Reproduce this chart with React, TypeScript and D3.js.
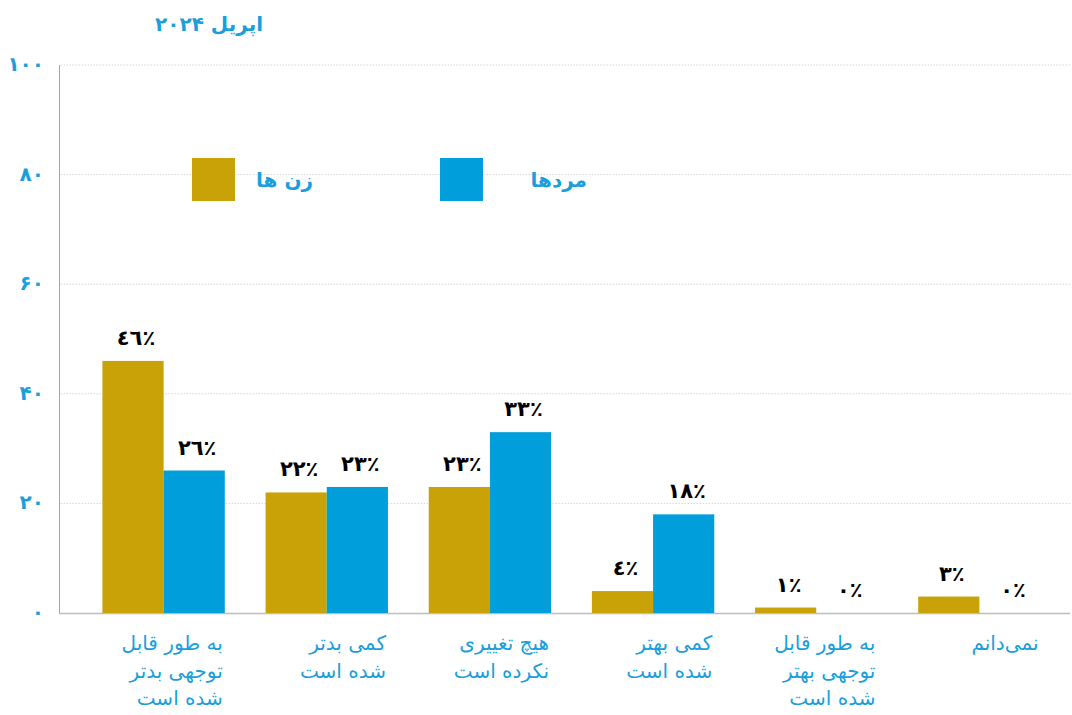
import React from "react";
import * as d3 from "d3";

const categories: string[][] = [
  ["به طور قابل", "توجهی بدتر", "شده است"],
  ["کمی بدتر", "شده است"],
  ["هیچ تغییری", "نکرده است"],
  ["کمی بهتر", "شده است"],
  ["به طور قابل", "توجهی بهتر", "شده است"],
  ["نمی‌دانم"],
];
const women: number[] = [46, 22, 23, 4, 1, 3];
const men: number[] = [26, 23, 33, 18, 0, 0];
const seriesNames: string[] = ["زن ها", "مردها"];
const yTicks: number[] = [0, 20, 40, 60, 80, 100];
const yTickLabels: string[] = ["۰", "۲۰", "۴۰", "۶۰", "۸۰", "۱۰۰"];
const title = "اپریل ۲۰۲۴";

const GOLD = "#C8A206";
const BLUE = "#009EDB";
const TEXT_BLUE = "#1A9FDC";
const FONT = "'DejaVu Sans', sans-serif";

const arabicDigits = (n: number) =>
  String(n).replace(/[0-9]/g, (d) => "٠١٢٣٤٥٦٧٨٩"[+d]) + "٪";

export default function App() {
  React.useEffect(() => {
    document.body.style.margin = "0";
  }, []);

  const W = 1072;
  const H = 715;
  const axisX = 59.5;
  const y = d3.scaleLinear().domain([0, 100]).range([613, 65]);
  const x0 = d3
    .scaleBand<number>()
    .domain(d3.range(categories.length))
    .range([60, 1083])
    .paddingInner(0.25)
    .paddingOuter(0.26);
  const x1 = d3.scaleBand<number>().domain([0, 1]).range([0, x0.bandwidth()]);
  const series = [women, men];
  const colors = [GOLD, BLUE];

  return (
    <svg
      width={W}
      height={H}
      style={{ position: "absolute", left: 0, top: 0, background: "#fff" }}
      fontFamily={FONT}
    >
      {/* gridlines */}
      {yTicks
        .filter((t) => t > 0)
        .map((t) => (
          <line
            key={"g" + t}
            x1={axisX + 1}
            x2={1070}
            y1={y(t)}
            y2={y(t)}
            stroke="#d6d6d6"
            strokeWidth={1}
            strokeDasharray="1.5 1.5"
          />
        ))}
      {/* axes */}
      <line x1={axisX} x2={axisX} y1={y(100)} y2={y(0) + 1} stroke="#a6a6a6" strokeWidth={1} />
      <line x1={axisX} x2={1070} y1={y(0) + 0.5} y2={y(0) + 0.5} stroke="#bdbdbd" strokeWidth={1.5} />

      {/* y tick labels */}
      {yTicks.map((t, i) => (
        <text
          key={"t" + t}
          x={44}
          y={y(t)}
          dy="0.3em"
          textAnchor="end"
          fill={TEXT_BLUE}
          fontSize={20}
          fontWeight="bold"
        >
          {yTickLabels[i]}
        </text>
      ))}

      {/* title */}
      <text x={263} y={31} textAnchor="end" fill={TEXT_BLUE} fontSize={20} fontWeight="bold">
        {title}
      </text>

      {/* legend */}
      <rect x={192} y={158} width={43} height={43} fill={GOLD} />
      <text x={313} y={187} textAnchor="end" fill={TEXT_BLUE} fontSize={20} fontWeight="bold">
        {seriesNames[0]}
      </text>
      <rect x={440} y={158} width={43} height={43} fill={BLUE} />
      <text x={587} y={187} textAnchor="end" fill={TEXT_BLUE} fontSize={20} fontWeight="bold">
        {seriesNames[1]}
      </text>

      {/* bars */}
      {categories.map((_, ci) => (
        <g key={"c" + ci} transform={`translate(${x0(ci)},0)`}>
          {series.map((s, si) => {
            const v = s[ci];
            const bx = x1(si)!;
            const bw = x1.bandwidth();
            return (
              <g key={"s" + si}>
                {v > 0 && (
                  <rect x={bx} y={y(v)} width={bw} height={y(0) - y(v)} fill={colors[si]} />
                )}
                <text
                  x={bx + bw / 2 + 3}
                  y={y(v) - 16}
                  textAnchor="middle"
                  fill="#000"
                  fontSize={21}
                  fontWeight="bold"
                >
                  {arabicDigits(v)}
                </text>
              </g>
            );
          })}
        </g>
      ))}

      {/* category labels */}
      {categories.map((lines, ci) => (
        <text
          key={"l" + ci}
          x={x0(ci)! + x0.bandwidth() - 2}
          y={650}
          textAnchor="end"
          fill={TEXT_BLUE}
          fontSize={20}
        >
          {lines.map((ln, li) => (
            <tspan key={li} x={x0(ci)! + x0.bandwidth() - 2} dy={li === 0 ? 0 : 27.5}>
              {ln}
            </tspan>
          ))}
        </text>
      ))}
    </svg>
  );
}
